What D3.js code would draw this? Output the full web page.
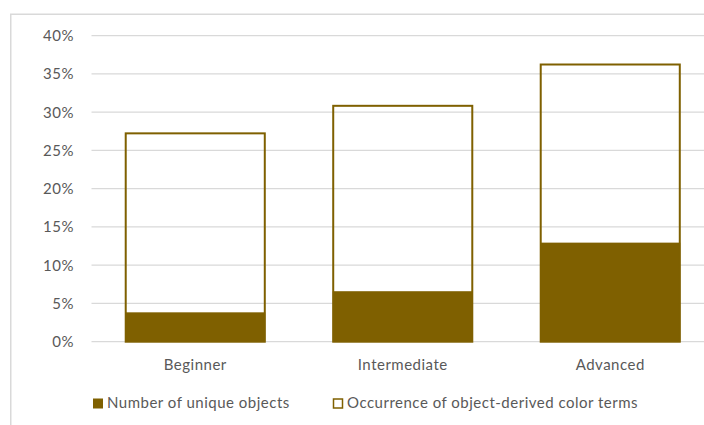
<!DOCTYPE html>
<html><head><meta charset="utf-8">
<script src="https://cdn.jsdelivr.net/npm/d3@7"></script>
<style>
html,body{margin:0;padding:0;background:#fff;}
svg{display:block;}
text{font-family:Lato,"Liberation Sans",sans-serif;fill:#595959;}
</style></head>
<body>
<svg id="chart" width="704" height="425"></svg>
<script>
const categories = ["Beginner", "Intermediate", "Advanced"];
const uniqueObjects = [0.0384, 0.066, 0.1295];
const occurrence = [0.273, 0.309, 0.363];
const yTicks = [0, 0.05, 0.10, 0.15, 0.20, 0.25, 0.30, 0.35, 0.40];
const seriesNames = ["Number of unique objects", "Occurrence of object-derived color terms"];

const color = "#7F6000";
const svg = d3.select("#chart");
const fontFam = "Lato,'Liberation Sans',sans-serif";

// chart border
svg.append("rect").attr("x", 10.75).attr("y", 14.25).attr("width", 720).attr("height", 440)
  .attr("fill", "none").attr("stroke", "#D9D9D9").attr("stroke-width", 1.5);

const x = d3.scaleBand().domain(categories).range([91.5, 714]).paddingInner(0.325).paddingOuter(0.1625);
const y = d3.scaleLinear().domain([0, 0.4]).range([341.7, 35.7]);

// gridlines
svg.append("g").selectAll("line").data(yTicks).join("line")
  .attr("x1", 91.5).attr("x2", 714)
  .attr("y1", d => y(d)).attr("y2", d => y(d))
  .attr("stroke", "#D9D9D9").attr("stroke-width", 1.3);

// y axis labels
const yAxis = d3.axisLeft(y).tickValues(yTicks).tickFormat(d3.format(".0%")).tickSize(0).tickPadding(0);
const ya = svg.append("g").attr("transform", "translate(74,0)").call(yAxis);
ya.select(".domain").remove();
ya.selectAll("text").attr("font-size", 15).attr("fill", "#595959").attr("letter-spacing", 0.5)
  .style("font-family", fontFam);

// filled bars
svg.append("g").selectAll("rect").data(uniqueObjects).join("rect")
  .attr("x", (d, i) => x(categories[i]))
  .attr("width", x.bandwidth())
  .attr("y", d => y(d))
  .attr("height", d => y(0) - y(d))
  .attr("fill", color);

// outlined bars
svg.append("g").selectAll("rect").data(occurrence).join("rect")
  .attr("x", (d, i) => x(categories[i]) + 0.5)
  .attr("width", x.bandwidth() - 1)
  .attr("y", d => y(d) + 0.5)
  .attr("height", d => y(0) - y(d) - 0.5)
  .attr("fill", "none")
  .attr("stroke", color).attr("stroke-width", 2);

// x axis labels
const xAxis = d3.axisBottom(x).tickSize(0).tickPadding(0);
const xa = svg.append("g").attr("transform", "translate(0,359)").call(xAxis);
xa.select(".domain").remove();
xa.selectAll("text").attr("font-size", 15).attr("fill", "#595959").attr("dy", "0.71em")
  .attr("letter-spacing", 0.5).style("font-family", fontFam);

// legend
const leg = svg.append("g");
const legX = [93, 333];
leg.selectAll("rect").data(seriesNames).join("rect")
  .attr("x", (d, i) => legX[i] + (i ? 0.5 : 0))
  .attr("y", (d, i) => 398.5 + (i ? 0.5 : 0))
  .attr("width", (d, i) => i ? 9 : 10)
  .attr("height", (d, i) => i ? 9 : 10)
  .attr("fill", (d, i) => i ? "#fff" : color)
  .attr("stroke", (d, i) => i ? color : "none")
  .attr("stroke-width", 1.5);
leg.selectAll("text").data(seriesNames).join("text")
  .attr("x", (d, i) => legX[i] + 14)
  .attr("y", 408)
  .attr("font-size", 15)
  .attr("letter-spacing", 0.5)
  .text(d => d);
</script>
</body></html>
